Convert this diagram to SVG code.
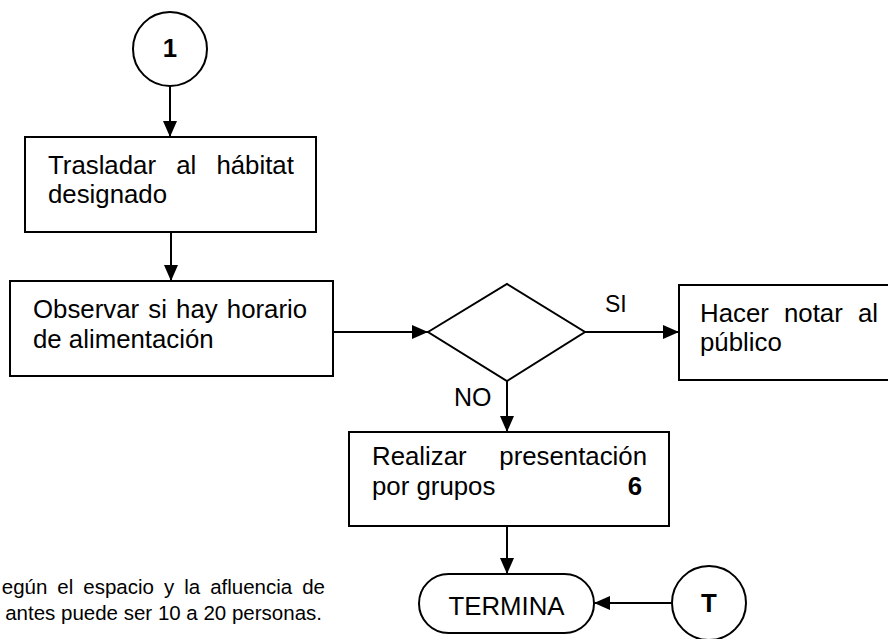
<svg xmlns="http://www.w3.org/2000/svg" width="888" height="639" viewBox="0 0 888 639">
<style>
.shape{fill:#fff;stroke:#000;stroke-width:2}
.t{font-family:"Liberation Sans",Arial,sans-serif;font-size:25.8px;fill:#000}
.b{font-weight:bold}
.lbl{font-family:"Liberation Sans",Arial,sans-serif;fill:#000}
.conn{stroke:#000;stroke-width:2;fill:none;marker-end:url(#arr)}
</style>
<defs>
<marker id="arr" viewBox="0 0 16 14" refX="16" refY="7" markerWidth="16" markerHeight="14" markerUnits="userSpaceOnUse" orient="auto">
<path d="M0,0 L16,7 L0,14 z" fill="#000"/>
</marker>
</defs>
<rect width="888" height="639" fill="#fff"/>
<g id="connectors">
<line class="conn" x1="170" y1="86" x2="170" y2="137"/>
<line class="conn" x1="171" y1="232" x2="171" y2="281"/>
<line class="conn" x1="333" y1="332" x2="428" y2="332"/>
<line class="conn" x1="585" y1="332" x2="679" y2="332"/>
<line class="conn" x1="507" y1="381" x2="507" y2="432"/>
<line class="conn" x1="507" y1="526" x2="507" y2="574"/>
<line class="conn" x1="672" y1="603" x2="594" y2="603"/>
<text class="lbl" x="605" y="312" font-size="23">SI</text>
<text class="lbl" x="454" y="406" font-size="25">NO</text>
</g>
<g id="n-start">
<circle class="shape" cx="170" cy="49" r="37"/>
<text class="t b" x="170" y="57" font-size="24" text-anchor="middle">1</text>
</g>
<g id="n-trasladar">
<rect class="shape" x="25" y="137" width="291" height="95"/>
<text class="t" x="48" y="174" word-spacing="13">Trasladar al hábitat</text>
<text class="t" x="48" y="203">designado</text>
</g>
<g id="n-observar">
<rect class="shape" x="10" y="281" width="323" height="95"/>
<text class="t" x="33" y="318" word-spacing="2">Observar si hay horario</text>
<text class="t" x="33" y="348">de alimentación</text>
</g>
<g id="n-decision">
<polygon class="shape" points="428,332 507,284 585,332 507,381"/>
</g>
<g id="n-hacer">
<rect class="shape" x="679" y="285" width="220" height="95"/>
<text class="t" x="700" y="322" word-spacing="8">Hacer notar al</text>
<text class="t" x="700" y="351">público</text>
</g>
<g id="n-realizar">
<rect class="shape" x="349" y="432" width="320" height="94"/>
<text class="t" x="372" y="465" word-spacing="25.5">Realizar presentación</text>
<text class="t" x="372" y="495">por grupos</text>
<text class="t b" x="642" y="495" text-anchor="end">6</text>
</g>
<g id="n-termina">
<rect class="shape" x="419" y="574" width="175" height="59" rx="29.5" ry="29.5"/>
<text class="t" x="506.5" y="615" font-size="26" text-anchor="middle">TERMINA</text>
</g>
<g id="n-t">
<circle class="shape" cx="709" cy="603" r="37"/>
<text class="t b" x="709" y="612" font-size="24" text-anchor="middle">T</text>
</g>
<g id="note">
<text class="lbl" x="325" y="594" font-size="20.5" text-anchor="end" word-spacing="4.3">egún el espacio y la afluencia de</text>
<text class="lbl" x="322" y="620" font-size="20.5" text-anchor="end">antes puede ser 10 a 20 personas.</text>
</g>
</svg>
